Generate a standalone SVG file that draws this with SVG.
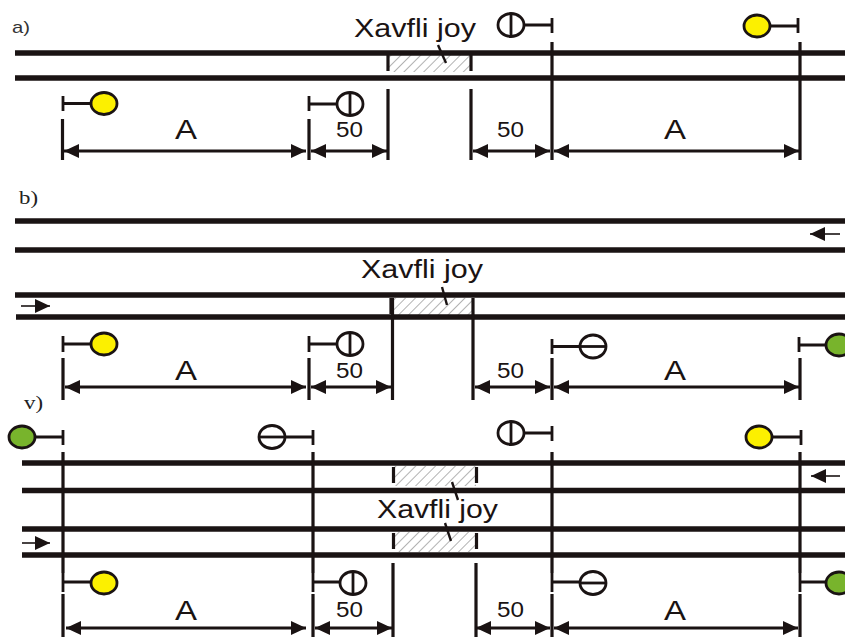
<svg xmlns="http://www.w3.org/2000/svg" width="845" height="637" viewBox="0 0 845 637">
<style>
.rail{stroke:#1a1313;stroke-width:5.700;fill:none}
.post{stroke:#1a1313;stroke-width:3.200;fill:none}
.thin{stroke:#1a1313;stroke-width:2.800;fill:none}
.dim{stroke:#1a1313;stroke-width:2.800;fill:none;marker-start:url(#hs);marker-end:url(#he)}
.dir{stroke:#1a1313;stroke-width:1.600;fill:none;marker-end:url(#de)}
.lead{stroke:#1a1313;stroke-width:2.400;fill:none}
.haz{fill:url(#hatch)}
.sig{stroke:#1a1313;stroke-width:2.800;fill:#fff}
.y{fill:#fcf000}
.g{fill:#78b42c}
.lbl{font-family:"Liberation Sans",Arial,sans-serif;fill:#1a1313}
.hz{font-size:26px}
.a{font-size:28px}
.n{font-size:22px}
.pa{font-family:"Liberation Sans",Arial,sans-serif;font-size:17px;fill:#333}
.p{font-family:"Liberation Serif","Times New Roman",serif;font-size:18px;fill:#222}
</style>
<defs>
<pattern id="hatch" width="7" height="7" patternUnits="userSpaceOnUse" patternTransform="rotate(45)"><rect width="7" height="7" fill="#fff"/><line x1="0" y1="0" x2="0" y2="7" stroke="#7e7e7e" stroke-width="1.200"/></pattern>
<marker id="he" markerUnits="userSpaceOnUse" markerWidth="16" markerHeight="16" refX="15" refY="8" orient="auto"><path d="M0 1L15 8L0 15z" fill="#1a1313"/></marker>
<marker id="hs" markerUnits="userSpaceOnUse" markerWidth="16" markerHeight="16" refX="0" refY="8" orient="auto"><path d="M15 1L0 8L15 15z" fill="#1a1313"/></marker>
<marker id="de" markerUnits="userSpaceOnUse" markerWidth="16" markerHeight="16" refX="15" refY="8" orient="auto"><path d="M0 1L15 8L0 15z" fill="#1a1313"/></marker>
</defs>

<g id="panel-a">
<text class="pa" x="12" y="33" textLength="18" lengthAdjust="spacingAndGlyphs">a)</text>
<g id="a-hazard"><rect class="haz" x="388" y="55" width="83" height="17"/><path class="post" d="M388 55V71M471 55V71"/><path class="lead" d="M438 45L446 63"/><text class="lbl hz" x="354" y="36.500" textLength="122" lengthAdjust="spacingAndGlyphs">Xavfli joy</text></g>
<g id="a-connectors"><path class="rail" d="M15 53H845M15 78H845"/>
<path class="post" d="M552 42V160M800 42V160M388 89V160M471 89V160M62.500 119V160M309 119V160"/>
<path class="dim" d="M64 151H306"/><path class="dim" d="M311 151H387"/><path class="dim" d="M473 151H550"/><path class="dim" d="M554 151H799"/>
<text class="lbl a" x="175" y="139" textLength="22" lengthAdjust="spacingAndGlyphs">A</text><text class="lbl n" x="336" y="137" textLength="27" lengthAdjust="spacingAndGlyphs">50</text><text class="lbl n" x="497" y="137" textLength="27" lengthAdjust="spacingAndGlyphs">50</text><text class="lbl a" x="664" y="139" textLength="22" lengthAdjust="spacingAndGlyphs">A</text></g>
<g id="a-s1"><path class="thin" d="M524 25H552M552 18V33"/><ellipse class="sig" cx="511" cy="25" rx="13" ry="11.500"/><path class="thin" d="M511 13V37"/></g>
<g id="a-s2"><path class="thin" d="M770 26H798M798 18V33"/><ellipse class="sig y" cx="757" cy="26" rx="13" ry="11"/></g>
<g id="a-s3"><path class="thin" d="M63 103.500H91M63 96V111"/><ellipse class="sig y" cx="104" cy="103.500" rx="13" ry="11"/></g>
<g id="a-s4"><path class="thin" d="M309 104H337M309 96V111"/><ellipse class="sig" cx="350" cy="104" rx="13" ry="11.500"/><path class="thin" d="M350 92V116"/></g>
</g>

<g id="panel-b">
<text class="p" x="19" y="204" textLength="19" lengthAdjust="spacingAndGlyphs">b)</text>
<g id="b-hazard"><rect class="haz" x="393" y="298" width="80" height="17"/><path class="lead" d="M442 287L447 305"/><text class="lbl hz" x="361" y="278" textLength="122" lengthAdjust="spacingAndGlyphs">Xavfli joy</text></g>
<g id="b-connectors"><path class="rail" d="M15 221H845M15 250H845M15 295H845M16 317H845"/>
<path class="post" d="M392.500 298V400M473 298V400M552 358V400M800 358V400M63 358V400M309 358V400M391 298V314"/>
<path class="dim" d="M65 387H306"/><path class="dim" d="M311 387H391"/><path class="dim" d="M475 387H550"/><path class="dim" d="M554 387H799"/>
<path class="dir" d="M21 306H50"/><path class="dir" d="M840 234H810"/>
<text class="lbl a" x="175" y="380" textLength="22" lengthAdjust="spacingAndGlyphs">A</text><text class="lbl n" x="336" y="378" textLength="27" lengthAdjust="spacingAndGlyphs">50</text><text class="lbl n" x="497" y="378" textLength="27" lengthAdjust="spacingAndGlyphs">50</text><text class="lbl a" x="664" y="380" textLength="22" lengthAdjust="spacingAndGlyphs">A</text></g>
<g id="b-s1"><path class="thin" d="M63 344H91M63 336V352"/><ellipse class="sig y" cx="104" cy="344" rx="13" ry="11"/></g>
<g id="b-s2"><path class="thin" d="M309 344H337M309 336V352"/><ellipse class="sig" cx="350" cy="344" rx="13" ry="11.500"/><path class="thin" d="M350 332V356"/></g>
<g id="b-s3"><path class="thin" d="M552 346.500H580M552 339V354"/><ellipse class="sig" cx="593" cy="346.500" rx="13" ry="11.500"/><path class="thin" d="M580 346.500H606"/></g>
<g id="b-s4"><path class="thin" d="M799 345H826M799 337V352"/><ellipse class="sig g" cx="839" cy="345" rx="13" ry="11"/></g>
</g>

<g id="panel-v">
<text class="p" x="24" y="409" textLength="19" lengthAdjust="spacingAndGlyphs">v)</text>
<g id="v-hazard"><rect class="haz" x="393" y="466" width="83" height="20"/><rect class="haz" x="393" y="532" width="83" height="20"/><path class="post" d="M393.500 467V483M476.500 467V483M393.500 533V549M476.500 533V549"/><path class="lead" d="M452 482L458 500M445 523L451 541"/><text class="lbl hz" x="377" y="518" textLength="121" lengthAdjust="spacingAndGlyphs">Xavfli joy</text></g>
<g id="v-connectors"><path class="rail" d="M22 463H845M22 490.500H845M22 529H845M22 555H845"/>
<path class="post" d="M63 452V573M63 594V637M313 452V573M313 594V637M552 452V573M552 594V637M800 452V573M800 594V637M393 563V637M476 563V637"/>
<path class="dim" d="M66 628H306"/><path class="dim" d="M315 628H392"/><path class="dim" d="M476 628H550"/><path class="dim" d="M554 628H798"/>
<path class="dir" d="M22 543H50"/><path class="dir" d="M840 476H811"/>
<text class="lbl a" x="175" y="620" textLength="22" lengthAdjust="spacingAndGlyphs">A</text><text class="lbl n" x="336" y="617" textLength="27" lengthAdjust="spacingAndGlyphs">50</text><text class="lbl n" x="497" y="617" textLength="27" lengthAdjust="spacingAndGlyphs">50</text><text class="lbl a" x="664" y="620" textLength="22" lengthAdjust="spacingAndGlyphs">A</text></g>
<g id="v-s1"><path class="thin" d="M36 437H63M63 430V445"/><ellipse class="sig g" cx="22" cy="437" rx="13" ry="11"/></g>
<g id="v-s2"><path class="thin" d="M286 437H313M313 430V445"/><ellipse class="sig" cx="272" cy="437" rx="13" ry="11.500"/><path class="thin" d="M259 437H285"/></g>
<g id="v-s3"><path class="thin" d="M525 433H552M552 426V441"/><ellipse class="sig" cx="511" cy="433" rx="13" ry="11.500"/><path class="thin" d="M511 421V445"/></g>
<g id="v-s4"><path class="thin" d="M773 437H801M801 430V445"/><ellipse class="sig y" cx="759" cy="437" rx="13" ry="11"/></g>
<g id="v-s5"><path class="thin" d="M63 582H91M63 573V592"/><ellipse class="sig y" cx="104" cy="583" rx="13" ry="11"/></g>
<g id="v-s6"><path class="thin" d="M313 582H340M313 573V592"/><ellipse class="sig" cx="353" cy="583" rx="13" ry="11.500"/><path class="thin" d="M353 571V595"/></g>
<g id="v-s7"><path class="thin" d="M552 582H580M552 573V592"/><ellipse class="sig" cx="593" cy="583" rx="13" ry="11.500"/><path class="thin" d="M580 583H606"/></g>
<g id="v-s8"><path class="thin" d="M800 582H826M800 573V592"/><ellipse class="sig g" cx="839" cy="583" rx="13" ry="11"/></g>
</g>
</svg>
